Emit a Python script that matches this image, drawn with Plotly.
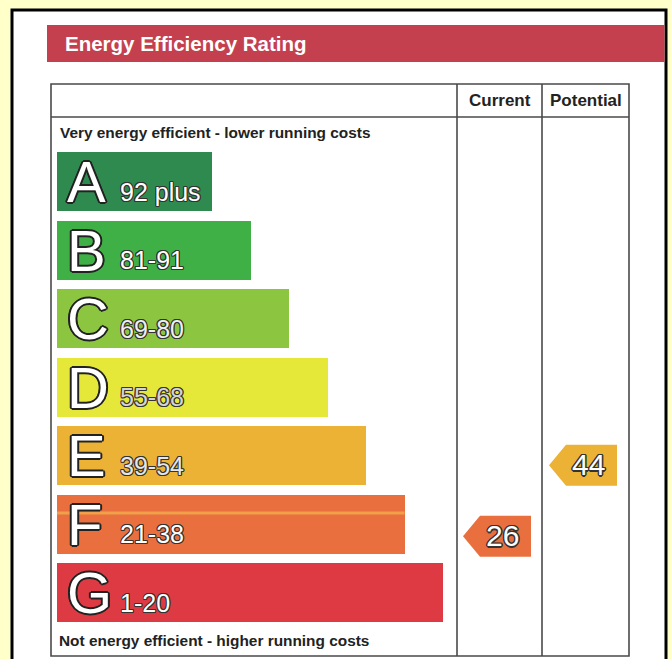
import plotly.graph_objects as go

# ---------------- data ----------------
bands = ["A", "B", "C", "D", "E", "F", "G"]
range_labels = ["92 plus", "81-91", "69-80", "55-68", "39-54", "21-38", "1-20"]
band_lo = [92, 81, 69, 55, 39, 21, 1]
band_hi = [100, 91, 80, 68, 54, 38, 20]
band_colors = ["#2E8A4F", "#3FB046", "#8CC53F", "#E5E838", "#EBB236", "#E9703E", "#DE3A43"]
range_text_colors = ["#FFFFFF", "#FFFFFF", "#EFEFEF", "#D4D4D4", "#E6E6E6", "#FFFFFF", "#FFFFFF"]
columns = ["Current", "Potential"]
ratings = [26, 44]
top_note = "Very energy efficient - lower running costs"
bottom_note = "Not energy efficient - higher running costs"
title = "Energy Efficiency Rating"

# ---------------- layout constants ----------------
W, H = 671, 659
FONT = "Liberation Sans, Arial, sans-serif"
BAND0_PX = 181.5      # pixel centre of first band
PITCH = 68.5          # pixel distance between band centres
BAR_H = 59 / PITCH    # bar thickness in band units
BAR_LEFT = 57
BAR_W0, BAR_STEP = 155, 38.5
COL_X = [457, 542, 629]   # column boundaries (pixels)
ARROW_W, ARROW_TIP, ARROW_H = 68, 17, 41 / PITCH


def px(x):
    return x / W


def py(y):
    return 1 - y / H


def outline(w, col="#222"):
    offs = [(-w, 0), (w, 0), (0, -w), (0, w), (-w * .7, -w * .7), (w * .7, -w * .7),
            (-w * .7, w * .7), (w * .7, w * .7)]
    return ", ".join(f"{dx:.1f}px {dy:.1f}px 0 {col}" for dx, dy in offs)


fig = go.Figure()

idx = list(range(len(bands)))
fig.add_trace(go.Bar(
    orientation="h", y=idx, x=[BAR_W0 + BAR_STEP * i for i in idx], base=BAR_LEFT,
    width=BAR_H, marker=dict(color=band_colors, line=dict(width=0)),
    hoverinfo="skip", showlegend=False))

annotations = []
for i, (b, r) in enumerate(zip(bands, range_labels)):
    annotations.append(dict(x=65, y=i, xref="x", yref="y", text=b, showarrow=False,
                            xanchor="left", yanchor="middle", yshift=0,
                            font=dict(family=FONT, size=58, color="white", shadow=outline(2))))
    annotations.append(dict(x=118, y=i + 10 / PITCH, xref="x", yref="y", text=r, showarrow=False,
                            xanchor="left", yanchor="middle", yshift=0,
                            font=dict(family=FONT, size=25, color=range_text_colors[i],
                                      shadow=outline(1.1, "#333"))))

# rating arrows
for c, v in enumerate(ratings):
    bi = next(i for i in idx if band_lo[i] <= v <= band_hi[i])
    yc = bi - BAR_H / 2 + BAR_H * (band_hi[bi] - v) / (band_hi[bi] - band_lo[bi])
    cx = (COL_X[c] + COL_X[c + 1]) / 2
    tip = cx - 36.5
    bl, br = tip + ARROW_TIP, tip + ARROW_W
    h = ARROW_H / 2
    fig.add_trace(go.Scatter(
        x=[tip, bl, br, br, bl, tip], y=[yc, yc - h, yc - h, yc + h, yc + h, yc],
        mode="lines", fill="toself", fillcolor=band_colors[bi], line=dict(width=0),
        hoverinfo="skip", showlegend=False))
    annotations.append(dict(x=(bl + br) / 2 - 3, y=yc, xref="x", yref="y", text=str(v),
                            showarrow=False, xanchor="center", yanchor="middle", yshift=1,
                            font=dict(family=FONT, size=30, color="white",
                                      shadow=outline(1.5, "#333"))))

# header / table texts
annotations += [
    dict(x=px(63), y=py(43), xref="paper", yref="paper", text=title, showarrow=False,
         xanchor="left", yanchor="middle", font=dict(family=FONT, size=20.5, color="white", weight="bold")),
    dict(x=px(58), y=py(132), xref="paper", yref="paper", text=top_note, showarrow=False,
         xanchor="left", yanchor="middle", font=dict(family=FONT, size=15.4, color="#222", weight="bold")),
    dict(x=px(57), y=py(640), xref="paper", yref="paper", text=bottom_note, showarrow=False,
         xanchor="left", yanchor="middle", font=dict(family=FONT, size=15.4, color="#222", weight="bold")),
]
for c, name in enumerate(columns):
    annotations.append(dict(x=px((COL_X[c] + COL_X[c + 1]) / 2), y=py(100), xref="paper", yref="paper",
                            text=name, showarrow=False, xanchor="center", yanchor="middle",
                            font=dict(family=FONT, size=17, color="#222", weight="bold")))

shapes = [
    dict(type="rect", xref="paper", yref="paper", x0=px(12), x1=px(666), y0=py(10), y1=py(720),
         fillcolor="white", line=dict(color="black", width=3), layer="below"),
    dict(type="rect", xref="paper", yref="paper", x0=px(47), x1=px(664.5), y0=py(25), y1=py(62),
         fillcolor="#C4404F", line=dict(width=0), layer="below"),
    dict(type="rect", xref="paper", yref="paper", x0=px(51), x1=px(629), y0=py(84), y1=py(656),
         line=dict(color="#4A4A4A", width=1.6), layer="below"),
    dict(type="line", xref="paper", yref="paper", x0=px(51), x1=px(629), y0=py(117), y1=py(117),
         line=dict(color="#4A4A4A", width=1.6), layer="below"),
]
for xc in COL_X[:2]:
    shapes.append(dict(type="line", xref="paper", yref="paper", x0=px(xc), x1=px(xc), y0=py(84),
                       y1=py(656), line=dict(color="#4A4A4A", width=1.6), layer="below"))
# scan streak across band F
shapes.append(dict(type="line", xref="x", yref="y", x0=BAR_LEFT, x1=BAR_LEFT + BAR_W0 + BAR_STEP * 5,
                   y0=5 - 0.16, y1=5 - 0.16, line=dict(color="#F0A048", width=3), layer="above"))

fig.update_layout(
    width=W, height=H, margin=dict(l=0, r=0, t=0, b=0, pad=0),
    paper_bgcolor="#FFFFCA", plot_bgcolor="rgba(0,0,0,0)",
    xaxis=dict(range=[0, W], visible=False, fixedrange=True),
    yaxis=dict(range=[(H - BAND0_PX) / PITCH, (0 - BAND0_PX) / PITCH], visible=False, fixedrange=True),
    annotations=annotations, shapes=shapes, showlegend=False, bargap=0,
)

fig.write_html("out.html", config={"displayModeBar": False},
               post_script="document.body.style.margin='0';document.body.style.overflow='hidden';")
